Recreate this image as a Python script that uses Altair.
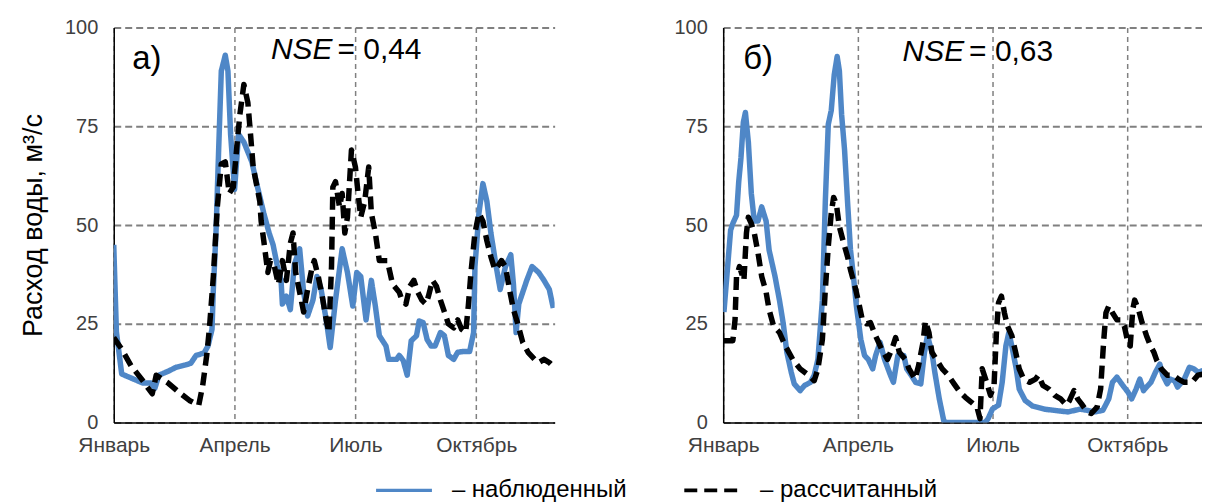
import altair as alt
import pandas as pd

# ---------------- data ----------------
MONTH_TICKS = [0, 91, 182, 273]
MONTH_LABELS = ["Январь", "Апрель", "Июль", "Октябрь"]
Y_TICKS = [0, 25, 50, 75, 100]
SERIES = ["– наблюденный", "– рассчитанный"]
Y_TITLE = "Расход воды, м³/с"

# panel a) observed
a_obs_day = [0, 2, 6, 15, 22, 28, 31, 34, 41, 47, 54, 58, 62, 68, 71, 74, 75, 77, 79, 81, 84, 86, 88, 91,
             94, 98, 104, 108, 113, 117, 120, 123, 126, 127, 130, 133, 136, 140, 143, 146, 150, 153, 156,
             160, 163, 167, 172, 176, 180, 183, 186, 190, 194, 197, 200, 205, 207, 213, 215, 218, 221, 224,
             228, 230, 233, 236, 239, 242, 246, 249, 252, 256, 259, 263, 268, 271, 272, 275, 278, 281, 284,
             288, 291, 295, 299, 301, 303, 305, 308, 311, 315, 320, 324, 328, 331]
a_obs_q = [45, 23, 12.3, 11, 10, 10, 8.7, 12, 13, 14, 14.6, 15, 17, 17.6, 19.4, 23.6, 33.7, 48, 69, 89, 93,
           89, 73, 59, 73, 71, 66, 60, 53, 48, 45, 40, 36, 30, 32, 28.6, 40, 44, 33, 27, 31, 37, 34, 26, 19,
           31, 44, 38, 29.5, 38, 37, 26, 36, 29.5, 22, 19.4, 16, 16, 17, 15.7, 12, 20.7, 22, 25.7, 25.3, 21,
           19.4, 19.4, 22.8, 22, 17, 16, 17.8, 18, 18, 22.8, 39.5, 53, 60.5, 56, 48, 39.5, 33.7, 39.5, 42.5,
           35, 22.8, 30, 33, 36, 39.5, 38, 36, 33.7, 29]

# panel a) calculated
a_calc_day = [0, 6, 13, 21, 29, 32, 41, 49, 57, 64, 67, 70, 72, 75, 78, 81, 84, 87, 90, 93, 95, 98, 101,
              103, 105, 110, 111, 113, 116, 118, 121, 124, 127, 130, 133, 135, 137, 140, 143, 146, 149, 151,
              154, 157, 160, 162, 164, 165, 167, 170, 172, 174, 176, 179, 182, 184, 186, 189, 192, 194, 197,
              200, 203, 206, 210, 215, 217, 220, 223, 226, 229, 232, 235, 237, 240, 243, 246, 249, 252, 256,
              259, 262, 265, 267, 269, 272, 275, 278, 281, 284, 287, 289, 292, 295, 298, 301, 304, 308, 312,
              317, 320, 324, 328, 331]
a_calc_q = [21.5, 18.6, 14.4, 11, 7.3, 12, 10, 7.7, 5.6, 4.4, 9.4, 17, 23.6, 37, 54.6, 65.5, 66, 58, 59.6,
            71, 78, 85.6, 81, 73, 64.7, 56, 51, 46, 38, 41, 39.5, 35, 41, 36, 45.4, 48, 38, 33, 28, 33.7,
            38.7, 41, 37, 32, 26, 22.8, 39.5, 59.6, 61, 54.6, 58, 48, 52, 69, 64.7, 58, 52, 56, 64.7, 53, 48,
            41, 41, 41, 35, 33, 31, 30, 34.5, 36, 33, 31, 30, 32, 36, 34.5, 31, 28, 25, 24, 26, 23.6, 22.8,
            29.5, 38, 48, 53, 51, 46, 42, 38.7, 39.5, 41, 39.5, 33.7, 28.6, 25.3, 20.3, 17.8, 16, 15.2, 16,
            15.2, 14.2]

# panel б) observed
b_obs_day = [0.5, 3, 5, 6.5, 9, 10.5, 12, 13.6, 15, 17, 19, 21, 23.5, 26, 29, 31, 35, 38, 40.6, 43, 46, 48,
             52, 55, 59, 61.5, 64, 67, 69, 71, 73, 75, 77, 78.5, 80, 82, 84, 86, 88, 90, 93, 95.5, 98, 101,
             103, 106, 109, 113, 115, 118, 122, 124, 127, 130, 133.5, 136, 138, 141, 143, 146, 149, 150.5,
             177, 179, 182, 186, 188.5, 191, 193, 195, 198, 200, 204, 209, 217, 228, 233, 241, 246, 251,
             256.5, 260.5, 263, 266, 270, 273.5, 276, 279, 281.5, 284, 287, 289, 292, 295, 297, 300, 302,
             305, 307, 311.5, 315, 318, 321, 326.7]
b_obs_q = [28, 39.5, 48.7, 50.4, 52.5, 61, 67, 76, 78.5, 71, 58, 51, 51, 54.6, 51, 43.7, 37, 31, 25, 17.8,
           12.7, 9.8, 8.1, 9.4, 10.2, 12, 16, 31, 56, 75.5, 79, 88, 92.7, 89, 78, 69, 56, 43.7, 37, 29.5,
           21, 17, 16, 13.6, 17, 20.3, 16, 12, 10.2, 17, 17, 13.6, 12, 10.2, 9.8, 17.8, 22, 17.8, 12.7, 6,
           0.5, 0, 0, 1, 3.5, 4.4, 10.2, 19.4, 22.8, 19.4, 13.6, 8.5, 5.6, 4.2, 3.4, 2.9, 2.7, 3.4, 3.1, 2.7,
           3.1, 6, 10.2, 11.5, 9.4, 7.7, 6, 8.5, 11, 8.1, 9.4, 10.2, 12.7, 14.8, 12, 9.8, 11, 10.6, 9, 11,
           14, 13.6, 12.7, 13.6]

# panel б) calculated
b_calc_day = [0.5, 6.5, 8, 9, 11, 14, 15.7, 17, 19, 21, 23.5, 26, 29, 31, 34, 38, 42, 47, 52, 57.6, 61.5,
              64, 67, 69, 71, 73, 74.6, 76.4, 78.5, 81, 84, 86, 89, 91.6, 94, 97, 99.5, 102, 105, 107, 111,
              114, 116.5, 119, 123, 125.6, 129.6, 132, 135, 136.6, 139, 141, 144, 148, 152, 156, 160, 163.6,
              167.5, 171.5, 173.5, 175, 178, 180.6, 183, 184.6, 186, 188, 190, 192, 195, 197.6, 200, 203,
              207, 211, 213, 216, 220, 224, 228, 232, 234, 237, 239.5, 242, 246, 248.7, 252.6, 255, 257,
              258.6, 260.5, 263, 266, 268.6, 271, 273, 275, 276.7, 278, 280.6, 283, 286, 288.7, 291, 293,
              296, 300, 304, 307.6, 311.5, 316.7, 320.7, 324.6, 326.7]
b_calc_q = [20.7, 20.7, 26, 37, 39.5, 36, 48, 52, 50.4, 48, 43, 37, 33, 28.6, 24.5, 22.8, 19.4, 16, 13.6,
            12, 10.6, 13.6, 21, 33.7, 44.6, 53, 57, 55.4, 49.6, 46, 42, 38.7, 34.5, 30.3, 26, 25, 25.3, 22.8,
            20.3, 18.6, 16, 18.6, 21.5, 17.8, 16, 13.6, 11, 14.4, 20.3, 25.7, 22.8, 17.8, 16, 13.6, 12, 9.8,
            7.7, 6.4, 5.2, 3.9, 1, 13.6, 10.2, 6.9, 9.4, 22.8, 30.3, 32, 27.8, 24.5, 22, 17.8, 13.6, 11,
            10.2, 11, 12, 9.4, 8.5, 6.9, 6, 4.4, 5.6, 8.1, 6, 4.8, 2.7, 2.3, 3.9, 8.5, 20.3, 27.8, 29.5,
            27.8, 26, 26, 24.5, 21, 19.4, 28.6, 31, 28.6, 25.3, 22, 19.4, 17.8, 15.7, 13.6, 12, 12, 11,
            10.2, 10.2, 12, 12.3, 11.5]

PANEL_LABELS = ["а)", "б)"]
NSE_VALUES = ["= 0,44", "= 0,63"]

# ---------------- style ----------------
BLUE = "#4f87c7"
FONT = "Liberation Sans"


def long_df(obs_day, obs_q, calc_day, calc_q):
    d1 = pd.DataFrame({"day": obs_day, "q": obs_q, "series": SERIES[0]})
    d2 = pd.DataFrame({"day": calc_day, "q": calc_q, "series": SERIES[1]})
    return pd.concat([d1, d2], ignore_index=True)


label_expr = " : ".join(
    f"datum.value == {v} ? '{t}'" for v, t in zip(MONTH_TICKS, MONTH_LABELS)
) + " : ''"

LEGEND = dict(title=None, orient="none", direction="horizontal",
              legendX=261, legendY=434, symbolType="stroke",
              symbolSize=3136, symbolStrokeWidth=5.5,
              labelFontSize=24, labelColor="#000000",
              labelOffset=18, columnPadding=49, labelLimit=400)


def panel(df, xmax, width, label, label_pos, nse, nse_pos, y_title):
    xs = alt.Scale(domain=[0, xmax], nice=False, zero=False)
    ys = alt.Scale(domain=[0, 100], nice=False)
    xaxis = alt.Axis(values=MONTH_TICKS, labelExpr=label_expr, grid=True, gridDash=[5, 4],
                     gridColor="#808080", gridWidth=1.5, ticks=False, labelPadding=12,
                     labelFontSize=21, labelColor="#404040", domainColor="#000000",
                     domainWidth=1.5, title=None, labelFlush=False)
    yaxis_kw = dict(values=Y_TICKS, grid=True, gridDash=[7, 4], gridColor="#808080", gridWidth=2,
                    ticks=False, labelPadding=16, labelFontSize=20, labelColor="#404040",
                    domainColor="#000000", domainWidth=1.5)
    if y_title:
        yaxis = alt.Axis(title=y_title, titleFontSize=27, titleFontWeight="normal",
                         titleColor="#000000", titlePadding=17, **yaxis_kw)
    else:
        yaxis = alt.Axis(title=None, **yaxis_kw)

    lines = alt.Chart(df).mark_line(clip=True, strokeJoin="round", strokeWidth=5.5).encode(
        x=alt.X("day:Q", scale=xs, axis=xaxis),
        y=alt.Y("q:Q", scale=ys, axis=yaxis),
        color=alt.Color("series:N", scale=alt.Scale(domain=SERIES, range=[BLUE, "#000000"]),
                        legend=alt.Legend(**LEGEND)),
        strokeDash=alt.StrokeDash("series:N",
                                  scale=alt.Scale(domain=SERIES, range=[[1, 0], [13, 7]]),
                                  legend=alt.Legend(**LEGEND)),
        strokeWidth=alt.StrokeWidth("series:N", scale=alt.Scale(domain=SERIES, range=[3.3, 3.8]),
                                    legend=None),
    )

    lab_df = pd.DataFrame({"day": [label_pos[0]], "q": [label_pos[1]], "t": [label]})
    lab = alt.Chart(lab_df).mark_text(fontSize=33, align="center", baseline="middle",
                                      color="#000000").encode(
        x=alt.X("day:Q", scale=xs), y=alt.Y("q:Q", scale=ys), text="t:N")

    nse_df = pd.DataFrame({"day": [nse_pos[0]], "q": [nse_pos[1]], "t": ["NSE"], "v": [nse]})
    nse_name = alt.Chart(nse_df).mark_text(fontSize=30, fontStyle="italic", align="right",
                                           baseline="middle", dx=-3, color="#000000").encode(
        x=alt.X("day:Q", scale=xs), y=alt.Y("q:Q", scale=ys), text="t:N")
    nse_val = alt.Chart(nse_df).mark_text(fontSize=30, align="left", baseline="middle", dx=2,
                                          color="#000000").encode(
        x=alt.X("day:Q", scale=xs), y=alt.Y("q:Q", scale=ys), text="v:N")

    return alt.layer(lines, lab, nse_name, nse_val).properties(width=width, height=396)


df_a = long_df(a_obs_day, a_obs_q, a_calc_day, a_calc_q)
df_b = long_df(b_obs_day, b_obs_q, b_calc_day, b_calc_q)

left = panel(df_a, 332, 442, PANEL_LABELS[0], (25, 92), NSE_VALUES[0], (167, 94.3), Y_TITLE)
right = panel(df_b, 323.5, 480, PANEL_LABELS[1], (23.6, 92), NSE_VALUES[1], (164.8, 93.7), None)

chart = alt.hconcat(left, right, spacing=119).properties(
    padding={"left": 11, "top": 9, "right": 0, "bottom": 0}
).configure(font=FONT).configure_view(strokeWidth=0)

chart.save("out.html", embed_options={"renderer": "svg", "actions": False})
